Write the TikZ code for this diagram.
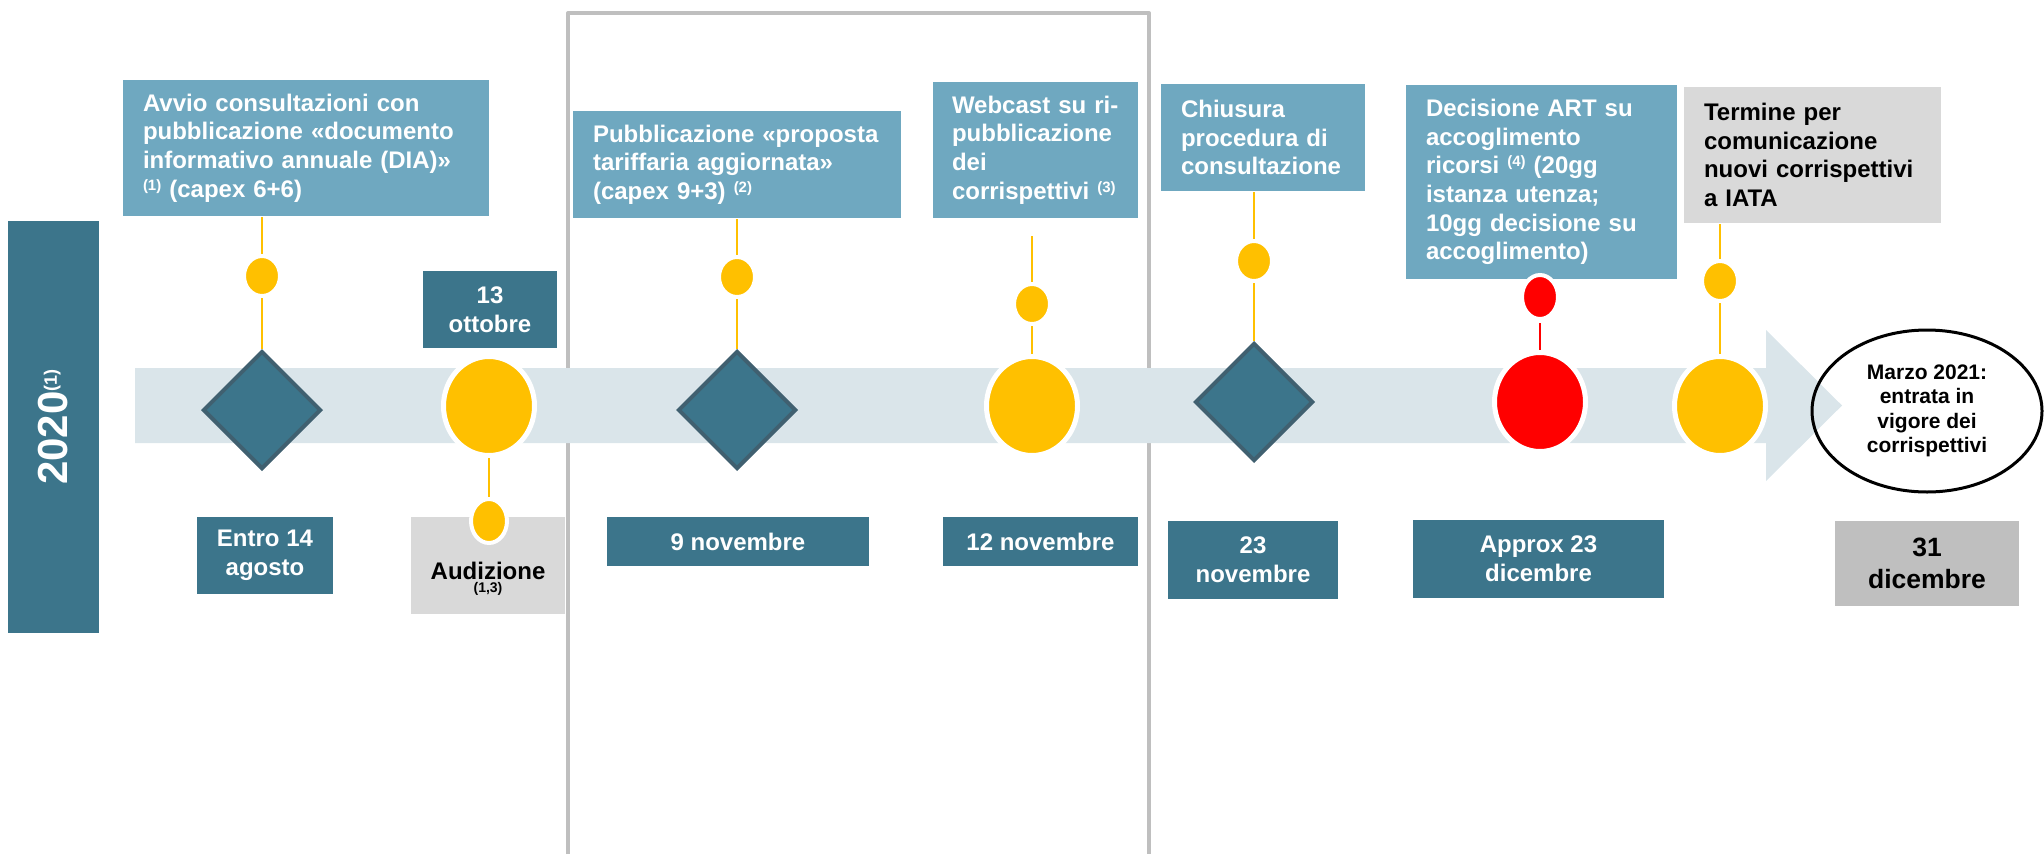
\documentclass[tikz,border=0pt]{standalone}
\usepackage{fontspec}
\setmainfont{Liberation Sans}
\usepackage{xcolor}
\usetikzlibrary{positioning}
\usetikzlibrary{shapes.geometric}
\usetikzlibrary{math}
\usetikzlibrary{calc}
\usetikzlibrary{backgrounds}

\definecolor{boxblue}{RGB}{111,168,192}
\definecolor{dateteal}{RGB}{60,117,139}
\definecolor{diaedge}{RGB}{64,96,112}
\definecolor{bandgray}{RGB}{218,229,234}
\definecolor{markyellow}{RGB}{255,192,0}
\definecolor{markred}{RGB}{255,0,0}
\definecolor{lightgrey}{RGB}{217,217,217}
\definecolor{midgrey}{RGB}{191,191,191}

% small raised reference number
\newcommand{\nota}[1]{\raisebox{7pt}{\fontsize{15}{15}\selectfont(#1)}}

\begin{document}
\begin{tikzpicture}[x=1pt,y=-1pt,line width=2pt,
    infobox/.style={rectangle, anchor=north west, fill=boxblue, text=white,
      align=left, inner xsep=20pt, inner ysep=0pt,
      font=\fontsize{24}{28.6}\selectfont\bfseries},
    datebox/.style={rectangle, anchor=north west, fill=dateteal, text=white,
      align=center, inner sep=0pt,
      font=\fontsize{24}{28.6}\selectfont\bfseries},
    milestone/.style={diamond, fill=dateteal, draw=diaedge, line width=4pt,
      minimum width=118pt, minimum height=118pt, inner sep=0pt},
    bigdot/.style={ellipse, draw=white, line width=5pt,
      minimum width=91pt, minimum height=99pt, inner sep=0pt},
    smalldot/.style={ellipse, fill=markyellow, draw=white, line width=4pt,
      minimum width=36pt, minimum height=40pt, inner sep=0pt},
    yline/.style={draw=markyellow, line width=2pt}]

  \tikzmath{
    \bandtop = 368;  % upper edge of the time band
    \bandbot = 443;  % lower edge of the time band
    \bandmid = 405.5;% middle of the time band
    \headx   = 1766; % start of the arrow head
    \tipx    = 1842; % tip of the arrow head
    \headtop = 330;  % upper corner of the arrow head
    \headbot = 481;  % lower corner of the arrow head
  }

  \useasboundingbox (0,0) rectangle (2044,854);

  % Year bar on the left
  \node[datebox, minimum width=91pt, minimum height=412pt] (year) at (7,220) {};
  \node[rotate=90, text=white, font=\fontsize{42}{42}\selectfont\bfseries] (yeartext)
    at (year.center) {2020\raisebox{11pt}{\fontsize{18}{18}\selectfont(1)}};

  % Boxes above the time line
  \node[infobox, text width=326pt, minimum height=136pt] (avvio) at (122,79)
    {Avvio consultazioni con\\pubblicazione «documento\\informativo annuale (DIA)»\\\nota{1} (capex 6+6)};
  \node[infobox, text width=288pt, minimum height=107pt] (pubbl) at (572,110)
    {Pubblicazione «proposta\\tariffaria aggiornata»\\(capex 9+3) \nota{2}};
  \node[infobox, inner xsep=19pt, text width=167pt, minimum height=136pt] (webcast) at (932,81)
    {Webcast su ri-\\pubblicazione\\dei\\corrispettivi \nota{3}};
  \node[infobox, text width=164pt, minimum height=107pt] (chiusura) at (1160,83)
    {Chiusura\\procedura di\\consultazione};
  \node[infobox, text width=231pt, minimum height=194pt] (decisione) at (1405,84)
    {Decisione ART su\\accoglimento\\ricorsi \nota{4} (20gg\\istanza utenza;\\10gg decisione su\\accoglimento)};
  \node[infobox, fill=lightgrey, text=black, text width=217pt, minimum height=136pt] (termine) at (1683,86)
    {Termine per\\comunicazione\\nuovi corrispettivi\\a IATA};
  \node[datebox, minimum width=134pt, minimum height=77pt] (ottobre) at (422,270) {13\\ottobre};

  % Date boxes below the time line
  \node[datebox, minimum width=136pt, minimum height=77pt] (entro) at (196,516) {Entro 14\\agosto};
  \node[datebox, fill=lightgrey, minimum width=154pt, minimum height=97pt] (audizione) at (410,516) {};
  \node[align=center, font=\fontsize{24}{28.6}\selectfont\bfseries] (audtext)
    at ([yshift=-13pt]audizione.center) {Audizione\\[-16pt]{\fontsize{14}{14}\selectfont(1,3)}};
  \node[datebox, minimum width=262pt, minimum height=49pt] (nove) at (606,516) {9 novembre};
  \node[datebox, minimum width=195pt, minimum height=49pt] (dodici) at (942,516) {12 novembre};
  \node[datebox, minimum width=170pt, minimum height=78pt] (ventitre) at (1167,520) {23\\novembre};
  \node[datebox, minimum width=251pt, minimum height=78pt] (approx) at (1412,519) {Approx 23\\dicembre};
  \node[datebox, fill=midgrey, text=black, minimum width=184pt, minimum height=85pt,
    font=\fontsize{26.5}{32}\selectfont\bfseries] (trentuno) at (1834,520) {31\\dicembre};

  % Markers on the time line
  \node[milestone] (diaA) at (262,410) {};
  \node[bigdot, fill=markyellow] (circB) at (489,406) {};
  \node[milestone] (diaC) at (737,410) {};
  \node[bigdot, fill=markyellow] (circD) at (1032,406) {};
  \node[milestone] (diaE) at (1254,402) {};
  \node[bigdot, fill=markred] (circF) at (1540,402) {};
  \node[bigdot, fill=markyellow] (circG) at (1720,406) {};

  % Small dots on the connectors
  \node[smalldot] (dotA) at (262,276) {};
  \node[smalldot, minimum height=44pt] (dotB) at (489,521) {};
  \node[smalldot] (dotC) at (737,277) {};
  \node[smalldot] (dotD) at (1032,304) {};
  \node[smalldot] (dotE) at (1254,261) {};
  \node[smalldot, fill=markred, minimum height=44pt] (dotF) at (1540,297) {};
  \node[smalldot] (dotG) at (1720,281) {};
  \coordinate (webtop) at (1032,236);

  % Final milestone
  \node[ellipse, draw=black, line width=3pt, minimum width=230pt, minimum height=162pt,
    inner sep=0pt, align=center, font=\fontsize{21}{24.5}\selectfont\bfseries] (marzo)
    at (1927,411) {Marzo 2021:\\entrata in\\vigore dei\\corrispettivi};

  % Frame, time band and connectors behind everything
  \begin{scope}[on background layer]
    \draw[midgrey, line width=4pt, line join=round] (568,854) -- (568,13) -- (1149,13) -- (1149,854);
    \fill[bandgray] (135,\bandtop) -- (\headx,\bandtop) -- (\headx,\headtop) -- (\tipx,\bandmid)
      -- (\headx,\headbot) -- (\headx,\bandbot) -- (135,\bandbot) -- cycle;
    \draw[yline] (dotA |- avvio.south) -- (dotA) -- (diaA);
    \draw[yline] (circB) -- (dotB);
    \draw[yline] (dotC |- pubbl.south) -- (dotC) -- (diaC);
    \draw[yline] (webtop) -- (dotD) -- (circD);
    \draw[yline] (dotE |- chiusura.south) -- (dotE) -- (diaE);
    \draw[markred, line width=2pt, shorten <=2pt] (dotF) -- (circF);
    \draw[yline] (dotG |- termine.south) -- (dotG) -- (circG);
  \end{scope}

\end{tikzpicture}
\end{document}
